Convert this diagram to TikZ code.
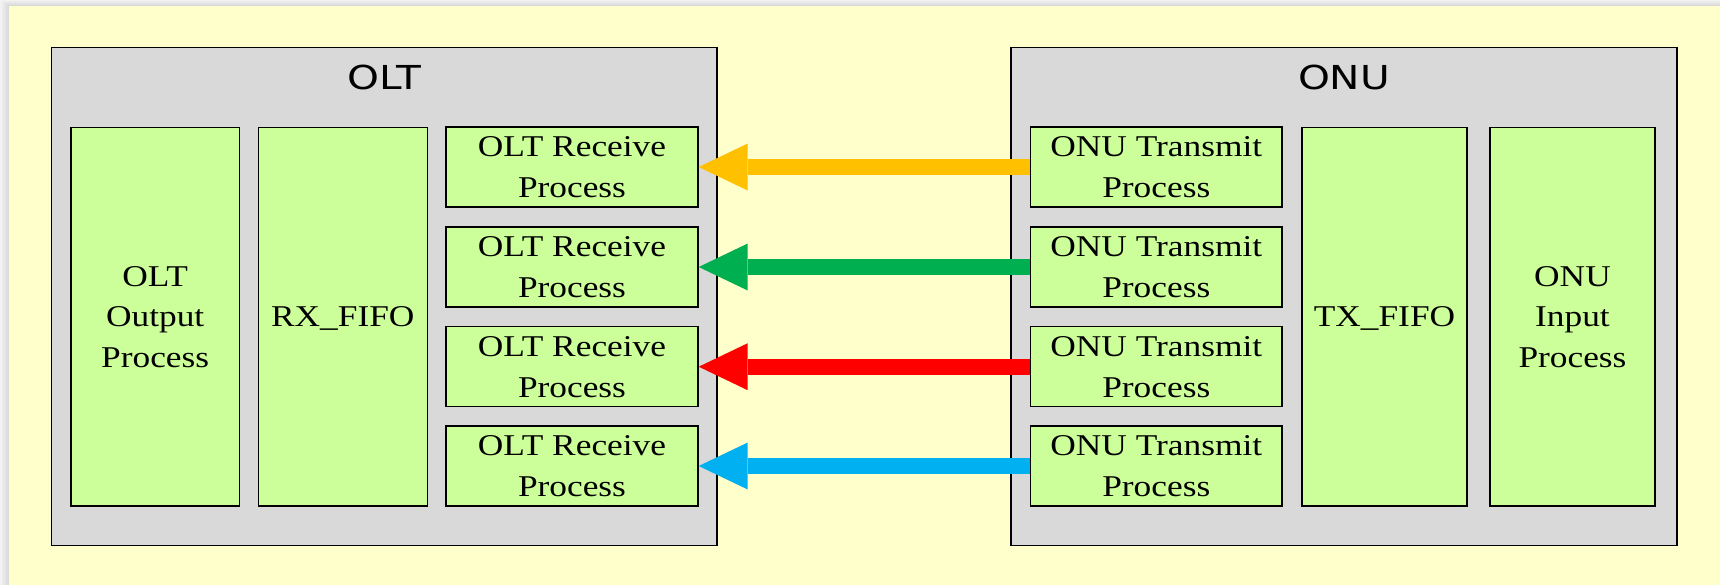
\documentclass[tikz,border=0pt]{standalone}
\usepackage{fontspec}
\newfontfamily\boxfont[FakeStretch=1.17]{Liberation Serif}
\newfontfamily\lblfont[FakeStretch=1.23]{DejaVu Sans}
\usetikzlibrary{arrows.meta}
\definecolor{bgyellow}{HTML}{FFFFCC}
\definecolor{boxgray}{HTML}{D9D9D9}
\definecolor{procgreen}{HTML}{CCFF99}
\definecolor{arrOrange}{HTML}{FFC000}
\definecolor{arrGreen}{HTML}{00B050}
\definecolor{arrRed}{HTML}{FF0000}
\definecolor{arrBlue}{HTML}{00B0F0}
\begin{document}
\begin{tikzpicture}[x=0.5pt,y=-0.5pt,
  container/.style={draw=black, fill=boxgray, line width=0.7pt, inner sep=0pt, minimum height=249pt},
  proc/.style={draw=black, fill=procgreen, line width=0.7pt, inner sep=0pt, align=center, text depth=0pt,
    font={\boxfont\fontsize{15.1pt}{20.35pt}\selectfont}},
  bigproc/.style={proc, minimum height=189.15pt},
  smallproc/.style={proc, minimum height=40pt, minimum width=126pt},
  lbl/.style={font={\lblfont\fontsize{16.5pt}{19pt}\selectfont}, inner sep=0pt, anchor=base},
  flow/.style={line width=8pt, -{Triangle[length=24.5pt,width=23.5pt,line width=0pt]}}
]
\useasboundingbox (0,0) rectangle (1720,585);
% background with soft shadow at top and left
\fill[white] (0,0) rectangle (1720,585);
\foreach \d/\s in {0/5,1.5/7,3/9,4.5/11,6/13,7.5/15}
  \fill[black!\s] (\d,{\d*0.67}) rectangle (1720,585);
\fill[bgyellow] (9,6) rectangle (1720,585);

% containers
\node[container, minimum width=332.75pt] (olt) at (384.25,296.5) {};
\node[container, minimum width=333pt] (onu) at (1344,296.5) {};
\node[lbl] (oltlbl) at (384.25,89.3) {OLT};
\node[lbl] (onulbl) at (1344,89.3) {ONU};

% OLT side
\node[bigproc, minimum width=84.15pt] (oltout) at (155.2,316.9) {OLT\\Output\\Process};
\node[bigproc, minimum width=84.5pt] (rxfifo) at (342.8,316.9) {RX\_FIFO};
\node[smallproc] (oltr1) at (572,167) {OLT Receive\\Process};
\node[smallproc] (oltr2) at (572,267) {OLT Receive\\Process};
\node[smallproc] (oltr3) at (572,366.7) {OLT Receive\\Process};
\node[smallproc] (oltr4) at (572,466) {OLT Receive\\Process};

% ONU side
\node[smallproc, minimum width=125.65pt] (onut1) at (1156.3,167) {ONU Transmit\\Process};
\node[smallproc, minimum width=125.65pt] (onut2) at (1156.3,267) {ONU Transmit\\Process};
\node[smallproc, minimum width=125.65pt] (onut3) at (1156.3,366.7) {ONU Transmit\\Process};
\node[smallproc, minimum width=125.65pt] (onut4) at (1156.3,466) {ONU Transmit\\Process};
\node[bigproc, minimum width=82.5pt] (txfifo) at (1384.5,316.9) {TX\_FIFO};
\node[bigproc, minimum width=82.5pt] (onuin) at (1572.5,316.9) {ONU\\Input\\Process};

% flows
\draw[flow, arrOrange] (onut1.west) -- (oltr1.east);
\draw[flow, arrGreen] (onut2.west) -- (oltr2.east);
\draw[flow, arrRed] (onut3.west) -- (oltr3.east);
\draw[flow, arrBlue] (onut4.west) -- (oltr4.east);
\end{tikzpicture}
\end{document}
